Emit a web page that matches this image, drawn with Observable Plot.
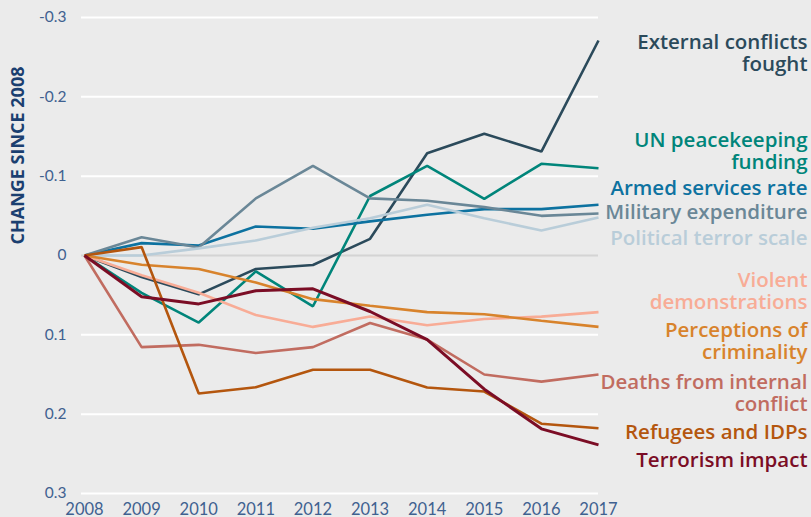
<!DOCTYPE html>
<html>
<head>
<meta charset="utf-8">
<script src="https://cdn.jsdelivr.net/npm/d3@7"></script>
<script src="https://cdn.jsdelivr.net/npm/@observablehq/plot@0.6"></script>
<style>
  html, body { margin: 0; padding: 0; background: #ebebeb; }
  #chart { width: 811px; height: 517px; overflow: hidden; }
</style>
</head>
<body>
<div id="chart"></div>
<script>
const years = [2008, 2009, 2010, 2011, 2012, 2013, 2014, 2015, 2016, 2017];

const seriesNames = [
  "External conflicts fought",
  "UN peacekeeping funding",
  "Armed services rate",
  "Military expenditure",
  "Political terror scale",
  "Violent demonstrations",
  "Perceptions of criminality",
  "Deaths from internal conflict",
  "Refugees and IDPs",
  "Terrorism impact"
];

const labelTexts = [
  "External conflicts\nfought",
  "UN peacekeeping\nfunding",
  "Armed services rate",
  "Military expenditure",
  "Political terror scale",
  "Violent\ndemonstrations",
  "Perceptions of\ncriminality",
  "Deaths from internal\nconflict",
  "Refugees and IDPs",
  "Terrorism impact"
];

// label anchor values (in the chart's units)
const labelValues = [-0.2556, -0.132, -0.0851, -0.0551, -0.0223, 0.0451, 0.1076, 0.1731, 0.2223, 0.2576];

const colors = ["#2b4a5b", "#00857a", "#0d72a0", "#6a8797", "#b9cdd9", "#f8ac96", "#d8832c", "#c16c60", "#b4560e", "#7b0d25"];

const externalConflicts = [0, 0.027, 0.049, 0.017, 0.012, -0.021, -0.129, -0.1535, -0.131, -0.271];
const unPeacekeeping    = [0, 0.047, 0.0845, 0.02, 0.064, -0.075, -0.113, -0.0715, -0.1156, -0.110];
const armedServices     = [0, -0.0156, -0.0126, -0.0366, -0.0337, -0.043, -0.0513, -0.0585, -0.0585, -0.064];
const militaryExp       = [0, -0.023, -0.010, -0.072, -0.113, -0.072, -0.069, -0.061, -0.050, -0.053];
const politicalTerror   = [0, 0, -0.009, -0.019, -0.035, -0.047, -0.064, -0.047, -0.0315, -0.048];
const violentDemos      = [0, 0.025, 0.047, 0.075, 0.090, 0.077, 0.088, 0.080, 0.077, 0.0714];
const perceptionsCrime  = [0, 0.0117, 0.017, 0.034, 0.055, 0.0634, 0.0714, 0.074, 0.0823, 0.090];
const deathsInternal    = [0, 0.1155, 0.1126, 0.123, 0.1155, 0.085, 0.106, 0.150, 0.159, 0.150];
const refugeesIDPs      = [0, -0.0106, 0.174, 0.166, 0.144, 0.144, 0.1664, 0.1715, 0.212, 0.2177];
const terrorismImpact   = [0, 0.052, 0.061, 0.0445, 0.042, 0.0706, 0.106, 0.1685, 0.2185, 0.2387];

const seriesValues = [externalConflicts, unPeacekeeping, armedServices, militaryExp, politicalTerror,
  violentDemos, perceptionsCrime, deathsInternal, refugeesIDPs, terrorismImpact];

const yTicks = [-0.3, -0.2, -0.1, 0, 0.1, 0.2, 0.3];

const rows = [];
seriesNames.forEach((name, s) => {
  years.forEach((yr, i) => rows.push({series: name, year: yr, value: seriesValues[s][i]}));
});
const labels = seriesNames.map((name, s) => ({series: name, text: labelTexts[s], value: labelValues[s], year: years[years.length - 1]}));

const colorOf = new Map(seriesNames.map((n, i) => [n, colors[i]]));

const lineMarks = seriesNames.map((name, s) =>
  Plot.line(rows.filter(d => d.series === name), {
    x: "year", y: "value",
    stroke: colors[s],
    strokeWidth: name === "Terrorism impact" ? 3 : 2.6,
    strokeLinejoin: "miter",
    strokeLinecap: "butt"
  })
);

const chart = Plot.plot({
  width: 811,
  height: 517,
  marginLeft: 81,
  marginRight: 213,
  marginTop: 17,
  marginBottom: 24,
  insetLeft: 3,
  style: {background: "#ebebeb", fontFamily: "Lato, 'Open Sans', sans-serif", overflow: "visible"},
  x: {domain: [2008, 2017]},
  y: {domain: [-0.3, 0.3], reverse: true},
  marks: [
    Plot.ruleY(yTicks.filter(d => d !== 0), {stroke: "#ffffff", strokeWidth: 2}),
    Plot.ruleY([0], {stroke: "#d4d4d4", strokeWidth: 2}),
    Plot.axisY(yTicks, {
      tickSize: 0, tickPadding: 15, fontSize: 15.5, fill: "#3f6190",
      tickFormat: d => d === 0 ? "0" : d.toFixed(1), label: null
    }),
    Plot.axisX(years, {
      tickSize: 0, tickPadding: 10, fontSize: 16.5, fill: "#3f6190",
      tickFormat: d => String(d), label: null
    }),
    ...lineMarks,
    Plot.text(labels, {
      x: "year", y: "value", text: "text",
      fill: d => colorOf.get(d.series),
      textAnchor: "end", lineAnchor: "middle", lineHeight: 1.07,
      dx: 209, fontSize: 20.5, fontWeight: 600,
      fontFamily: "'Open Sans', sans-serif"
    }),
    Plot.text(["CHANGE SINCE 2008"], {
      frameAnchor: "left", text: d => d, rotate: -90,
      dx: -63, dy: -11, fontSize: 18, fontWeight: 700, fill: "#1b3f70",
      fontFamily: "'Open Sans', sans-serif"
    })
  ]
});
document.getElementById("chart").append(chart);
</script>
</body>
</html>
